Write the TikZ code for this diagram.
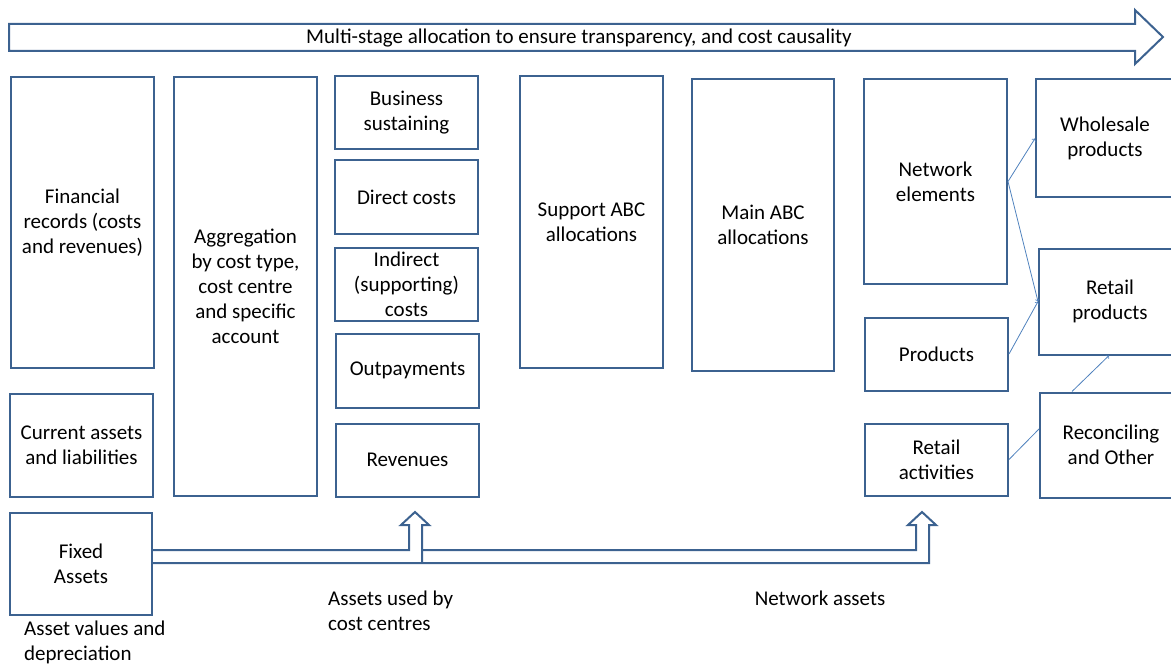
\documentclass[tikz,border=0pt]{standalone}
\usepackage{fontspec}
\setmainfont{Carlito}
\usetikzlibrary{positioning,calc}
\definecolor{boxblue}{HTML}{3C6290}
\definecolor{linkblue}{HTML}{4F81BD}

\begin{document}
\begin{tikzpicture}[x=1pt, y=-1pt,
    box/.style={draw=boxblue, line width=2pt, align=center, inner sep=0pt,
        font=\fontsize{21}{25}\selectfont},
    link/.style={draw=linkblue, line width=0.8pt},
    blockarrow/.style={draw=boxblue, line width=2pt, line join=miter},
    lbl/.style={font=\fontsize{21}{25}\selectfont, inner sep=0pt}]
    \useasboundingbox (0,0) rectangle (1171,666);

    % --- Top: multi-stage arrow ---
    \draw[blockarrow] (9,24) -- (1135,24) -- (1135,10) -- (1163,37)
        -- (1135,64) -- (1135,51) -- (9,51) -- cycle;
    \node[lbl] (title) at (579,38.5) {Multi-stage allocation to ensure transparency, and cost causality};

    % --- Column 1: source records ---
    \node[box, minimum width=143, minimum height=290] (fin) at (82.5,222.5) {Financial\\records (costs\\and revenues)};
    \node[box, minimum width=143, minimum height=103] (cur) at (81.5,445) {Current assets\\and liabilities};
    \node[box, minimum width=142, minimum height=102] (fix) at (81,563.5) {Fixed\\Assets};

    % --- Column 2: aggregation ---
    \node[box, minimum width=143, minimum height=419] (agg) at (245.5,286.5) {Aggregation\\by cost type,\\cost centre\\and specific\\account};

    % --- Column 3: cost pools ---
    \node[box, minimum width=143, minimum height=73] (bus) at (406.5,113) {Business\\sustaining};
    \node[box, minimum width=143, minimum height=73] (dir) at (406.5,197) {Direct costs};
    \node[box, minimum width=143, minimum height=73] (ind) at (406.5,284) {Indirect\\(supporting)\\costs};
    \node[box, minimum width=143, minimum height=74] (outp) at (407.5,370.5) {Outpayments};
    \node[box, minimum width=143, minimum height=73] (rev) at (407.5,460) {Revenues};

    % --- Columns 4 and 5: ABC allocations ---
    \node[box, minimum width=143, minimum height=291] (sup) at (591.5,222) {Support ABC\\allocations};
    \node[box, minimum width=142, minimum height=291] (mainabc) at (763,225) {Main ABC\\allocations};

    % --- Column 6: cost objects ---
    \node[box, minimum width=143, minimum height=204] (net) at (935.5,181.5) {Network\\elements};
    \node[box, minimum width=143, minimum height=73] (prod) at (936.5,354) {Products};
    \node[box, minimum width=143, minimum height=72] (retact) at (936.5,459.5) {Retail\\activities};

    % --- Column 7: outputs ---
    \node[box, minimum width=138, minimum height=118] (whole) at (1105,138.5) {Wholesale\\products};
    \node[box, minimum width=142, minimum height=106] (retprod) at (1110,301.5) {Retail\\products};
    \node[box, minimum width=142, minimum height=105] (rec) at (1111,445) {Reconciling\\and Other};

    \draw[link,->] (net.east) -- (whole.west);
    \draw[link,->] (net.east) -- (retprod.west);
    \draw[link,->] (prod.east) -- (retprod.west);
    \draw[link,->] ([xshift=33pt]rec.north west) -- ([xshift=71pt]retprod.south west);
    \draw[link] (retact.east) -- ([yshift=16pt]rec.west);

    % --- Bottom: asset arrows ---
    \draw[blockarrow] (152,550) -- (409,550) -- (409,525) -- (401,525) -- (415,512)
        -- (429,525) -- (422,525) -- (422,563);
    \draw[blockarrow] (422,550) -- (916,550) -- (916,525) -- (908,525) -- (922,512)
        -- (936,525) -- (929,525) -- (929,563) -- (152,563);

    \node[lbl, align=left, anchor=west] (deprec) at (24,642.5) {Asset values and\\depreciation};
    \node[lbl, align=left, anchor=west] (usedby) at (328,610.5) {Assets used by\\cost centres};
    \node[lbl] (netassets) at (820,598) {Network assets};
\end{tikzpicture}
\end{document}
